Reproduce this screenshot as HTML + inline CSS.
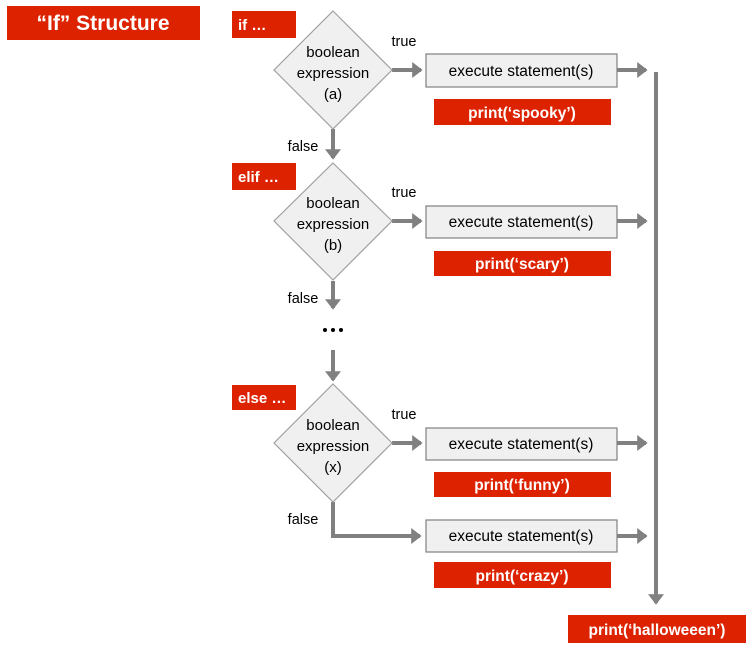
<!DOCTYPE html>
<html><head><meta charset="utf-8"><style>
html,body{margin:0;padding:0;background:#fff;}
svg{display:block;}
text{font-family:"Liberation Sans",sans-serif;}
</style></head><body>
<svg width="754" height="645" viewBox="0 0 754 645" xmlns="http://www.w3.org/2000/svg">
<defs>
<marker id="ah" markerWidth="4" markerHeight="4" refX="2.2" refY="2" orient="auto" markerUnits="strokeWidth">
<path d="M0,0 L2.6,2 L0,4 z" fill="#808080"/>
</marker>
</defs>
<g fill="#dd2200">
<rect x="7" y="6" width="193" height="34"/>
<rect x="232" y="11" width="64" height="27"/>
<rect x="232" y="163" width="64" height="27"/>
<rect x="232" y="385" width="64" height="25"/>
<rect x="434" y="99" width="177" height="26"/>
<rect x="434" y="251" width="177" height="25"/>
<rect x="434" y="472" width="177" height="25"/>
<rect x="434" y="562" width="177" height="26"/>
<rect x="568" y="615" width="178" height="28"/>
</g>
<g fill="#fff" font-weight="bold">
<text x="103" y="30" text-anchor="middle" font-size="21">“If” Structure</text>
<text x="238" y="30" font-size="15">if …</text>
<text x="238" y="182" font-size="15">elif …</text>
<text x="238" y="403" font-size="15">else …</text>
<g font-size="15.5" text-anchor="middle">
<text x="522" y="118">print(‘spooky’)</text>
<text x="522" y="269">print(‘scary’)</text>
<text x="522" y="490">print(‘funny’)</text>
<text x="522" y="581">print(‘crazy’)</text>
<text x="657" y="635">print(‘halloweeen’)</text>
</g>
</g>
<g stroke="#808080" stroke-width="4" fill="none">
<line x1="333" y1="129" x2="333" y2="158" marker-end="url(#ah)"/>
<line x1="333" y1="281" x2="333" y2="308" marker-end="url(#ah)"/>
<line x1="333" y1="350" x2="333" y2="380" marker-end="url(#ah)"/>
<polyline points="333,502 333,536 420,536" marker-end="url(#ah)"/>
<line x1="392" y1="70" x2="421" y2="70" marker-end="url(#ah)"/>
<line x1="392" y1="221" x2="421" y2="221" marker-end="url(#ah)"/>
<line x1="392" y1="443" x2="421" y2="443" marker-end="url(#ah)"/>
<line x1="617" y1="70" x2="646" y2="70" marker-end="url(#ah)"/>
<line x1="617" y1="221" x2="646" y2="221" marker-end="url(#ah)"/>
<line x1="617" y1="443" x2="646" y2="443" marker-end="url(#ah)"/>
<line x1="617" y1="536" x2="646" y2="536" marker-end="url(#ah)"/>
<line x1="656" y1="72" x2="656" y2="603" marker-end="url(#ah)"/>
</g>
<g fill="#f0f0f0" stroke="#a0a0a0" stroke-width="1.2">
<polygon points="333,11 392,70 333,129 274,70"/>
<polygon points="333,163 392,221 333,280 274,221"/>
<polygon points="333,384 392,443 333,502 274,443"/>
</g>
<g fill="#f0f0f0" stroke="#808080" stroke-width="1.2">
<rect x="426" y="54" width="191" height="33"/>
<rect x="426" y="206" width="191" height="32"/>
<rect x="426" y="428" width="191" height="32"/>
<rect x="426" y="520" width="191" height="32"/>
</g>
<g font-size="15" fill="#000" text-anchor="middle">
<text x="333" y="57">boolean</text><text x="333" y="78">expression</text><text x="333" y="99">(a)</text>
<text x="333" y="208">boolean</text><text x="333" y="229">expression</text><text x="333" y="250">(b)</text>
<text x="333" y="430">boolean</text><text x="333" y="451">expression</text><text x="333" y="472">(x)</text>
</g>
<g font-size="15.5" fill="#000" text-anchor="middle">
<text x="521" y="76">execute statement(s)</text>
<text x="521" y="227">execute statement(s)</text>
<text x="521" y="449">execute statement(s)</text>
<text x="521" y="541">execute statement(s)</text>
</g>
<g font-size="14.5" fill="#000" text-anchor="middle">
<text x="404" y="46">true</text>
<text x="404" y="197">true</text>
<text x="404" y="419">true</text>
<text x="303" y="151">false</text>
<text x="303" y="303">false</text>
<text x="303" y="524">false</text>
</g>
<g fill="#000">
<circle cx="325" cy="330" r="2"/><circle cx="333" cy="330" r="2"/><circle cx="341" cy="330" r="2"/>
</g>
</svg>
</body></html>
